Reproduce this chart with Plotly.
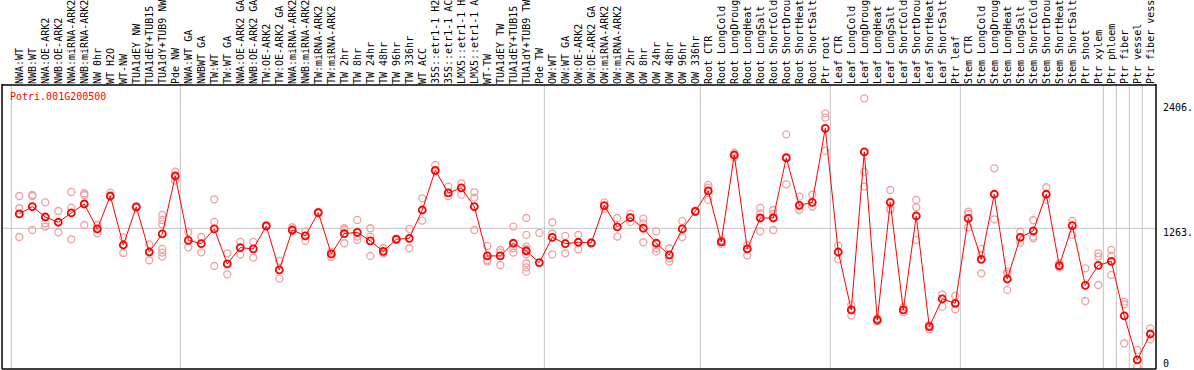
import plotly.graph_objects as go

title_text = "Potri.001G200500"

categories = [
    "NWA:WT", "NWB:WT", "NWA:OE-ARK2", "NWB:OE-ARK2", "NWA:miRNA-ARK2", "NWB:miRNA-ARK2",
    "NW 0hr", "WT H2O", "WT-NW", "TUA1dEY NW", "TUA1dEY+TUB15 NW", "TUA1dY+TUB9 NW", "Pde NW",
    "NWA:WT GA", "NWBWT GA", "TW:WT", "TW:WT GA", "NWA:OE-ARK2 GA", "NWB:OE-ARK2 GA",
    "TW:OE-ARK2", "TW:OE-ARK2 GA", "NWA:miRNA-ARK2 GA", "NWB:miRNA-ARK2 GA", "TW:miRNA-ARK2",
    "TW:miRNA-ARK2 GA", "TW 2hr", "TW 8hr", "TW 24hr", "TW 48hr", "TW 96hr", "TW 336hr",
    "WT ACC", "35S::etr1-1 H2O", "35S::etr1-1 ACC", "LMX5::etr1-1 H2O", "LMX5::etr1-1 ACC",
    "WT-TW", "TUA1dEY TW", "TUA1dEY+TUB15 TW", "TUA1dY+TUB9 TW", "Pde TW",
    "OW:WT", "OW:WT GA", "OW:OE-ARK2", "OW:OE-ARK2 GA", "OW:miRNA-ARK2", "OW:miRNA-ARK2 GA",
    "OW 2hr", "OW 8hr", "OW 24hr", "OW 48hr", "OW 96hr", "OW 336hr",
    "Root CTR", "Root LongCold", "Root LongDrought", "Root LongHeat", "Root LongSalt",
    "Root ShortCold", "Root ShortDrought", "Root ShortHeat", "Root ShortSalt", "Ptr root",
    "Leaf CTR", "Leaf LongCold", "Leaf LongDrought", "Leaf LongHeat", "Leaf LongSalt",
    "Leaf ShortCold", "Leaf ShortDrought", "Leaf ShortHeat", "Leaf ShortSalt", "Ptr leaf",
    "Stem CTR", "Stem LongCold", "Stem LongDrought", "Stem LongHeat", "Stem LongSalt",
    "Stem ShortCold", "Stem ShortDrought", "Stem ShortHeat", "Stem ShortSalt", "Ptr shoot",
    "Ptr xylem", "Ptr phloem", "Ptr fiber", "Ptr vessel", "Ptr fiber vessel",
]

# index of last category in each group (group separators drawn after these)
group_ends = [-1, 12, 40, 52, 62, 72, 83, 84, 85, 86]

means = [
    1394, 1461, 1366, 1318, 1403, 1485, 1257, 1558, 1110, 1458, 1046, 1211, 1741,
    1153, 1122, 1257, 937, 1086, 1074, 1284, 882, 1247, 1193, 1406, 1028, 1214, 1226,
    1147, 1052, 1162, 1171, 1430, 1793, 1586, 1632, 1461, 1010, 1010, 1126, 1055, 949,
    1180, 1122, 1135, 1129, 1470, 1275, 1360, 1263, 1126, 1019, 1257, 1418,
    1604, 1138, 1933, 1074, 1357, 1357, 1906, 1473, 1500, 2177,
    1046, 516, 1961, 424, 1500, 516, 1375, 363, 617, 577,
    1354, 979, 1574, 799, 1180, 1238, 1574, 921, 1287, 741, 924,
    961, 461, 59, 296,
]

replicates = [
    [1558, 1446, 1183], [1567, 1558, 1247], [1500, 1308, 1278], [1421, 1226],
    [1595, 1452, 1162], [1583, 1567, 1293], [1293, 1217], [1589, 1552], [1180, 1037],
    [1464, 1452], [1116, 970], [1385, 1339, 1300, 1074, 1040, 1004], [1781, 1698],
    [1229, 1089], [1183, 1043], [1528, 1321, 918], [1034, 842], [1138, 1022],
    [1138, 995], [1290, 1278], [964, 802], [1272, 1235], [1232, 1147], [1412, 1400],
    [1049, 1000], [1263, 1248, 1126], [1339, 1187, 1156], [1263, 1187, 1010],
    [1080, 1034], [1171, 1156], [1257, 1080], [1537, 1333], [1842, 1781], [1644, 1558],
    [1674, 1570], [1592, 1543, 1247], [1101, 973, 958], [1064, 1040, 927],
    [1278, 1080, 1040], [1357, 1202, 1095, 1071, 1025, 943, 906, 866], [1220],
    [1318, 1217, 1025], [1193, 1034], [1202, 1071], [1135, 1123], [1500, 1436],
    [1357, 1187], [1394, 1321], [1351, 1308, 1135], [1235, 1080, 1049],
    [1080, 988, 958], [1330, 1183], [1424, 1412],
    [1659, 1635, 1522], [1153, 1120], [1955, 1912], [1107, 1016], [1449, 1400, 1235],
    [1430, 1394, 1247], [2122, 1918, 1665], [1552, 1430], [1570, 1461],
    [2314, 2275, 1970],
    [1104, 979], [562, 467], [2451, 1781, 1644], [440, 410], [1613, 1446, 1430],
    [540, 494], [1522, 1455, 1156], [378, 339], [656, 546], [644, 522],
    [1415, 1394, 1272], [1074, 1019, 851], [1811, 1345], [866, 845, 699], [1232, 1132],
    [1336, 1187, 1171], [1638, 1522], [943, 906], [1330, 1202], [897, 598],
    [1034, 1004, 744],
    [1065, 1010, 836], [592, 568, 211], [150, 0], [348, 248],
]

y_ticks = [0, 1263, 2406]
y_tick_text = ["0", "1263.", "2406."]

# ---------------------------------------------------------------
W, H = 1194, 370
ML, MR, MT, MB = 2, 38, 85, 1
plot_w = W - ML - MR
plot_h = H - MT - MB
x_range = [-1.33, 87.44]
y_range = [-24, 2573]

FONT = "DejaVu Sans Mono"
RED = "#ff0000"
PINK = "#f0a0a0"
GRAY = "#c4c4c4"

xs = list(range(len(categories)))
rep_x, rep_y = [], []
for i, reps in enumerate(replicates):
    for v in reps:
        rep_x.append(i)
        rep_y.append(v)

fig = go.Figure()
fig.add_trace(go.Scatter(
    x=rep_x, y=rep_y, mode="markers",
    marker=dict(symbol="circle-open", size=7, color=PINK, line=dict(width=1.3, color=PINK)),
    hoverinfo="skip", showlegend=False, cliponaxis=True,
))
fig.add_trace(go.Scatter(
    x=xs, y=means, mode="lines+markers",
    line=dict(color=RED, width=1),
    marker=dict(symbol="circle-open", size=7, color=RED, line=dict(width=1.8, color=RED)),
    showlegend=False, cliponaxis=True,
))


def xpaper(xv):
    return (xv - x_range[0]) / (x_range[1] - x_range[0])


top_page = (plot_h + MB) / plot_h  # paper y of top of page
shapes = []
# gridline at middle tick
shapes.append(dict(type="line", xref="paper", yref="y", x0=0, x1=1, y0=y_ticks[1], y1=y_ticks[1],
                   line=dict(color=GRAY, width=1), layer="below"))
# group separators
for g in group_ends:
    xp = xpaper(g + 0.5 - 0.11)
    shapes.append(dict(type="line", xref="paper", yref="paper", x0=xp, x1=xp, y0=0, y1=top_page,
                       line=dict(color=GRAY, width=1), layer="below"))
# frame
shapes.append(dict(type="line", xref="paper", yref="paper", x0=0, x1=0, y0=0, y1=top_page,
                   line=dict(color="black", width=1.5)))
shapes.append(dict(type="line", xref="paper", yref="paper", x0=1, x1=1, y0=0, y1=top_page,
                   line=dict(color="black", width=1.5)))
shapes.append(dict(type="line", xref="paper", yref="paper", x0=0, x1=1, y0=1, y1=1,
                   line=dict(color="black", width=1.5)))
shapes.append(dict(type="line", xref="paper", yref="paper", x0=0, x1=1, y0=0, y1=0,
                   line=dict(color="black", width=1.5)))

annotations = [
    dict(text=title_text, xref="paper", yref="paper", x=(9.3 - ML) / plot_w, y=1 - (96.7 - MT) / plot_h,
         xanchor="left", yanchor="middle", showarrow=False, font=dict(family=FONT, size=10, color=RED),
         borderpad=0),
]
anchors = ["bottom", "top", "top"]
shifts = [-4, 2, 2]
for v, t, a, s in zip(y_ticks, y_tick_text, anchors, shifts):
    annotations.append(dict(text=t, xref="paper", yref="y", x=1, y=v, xanchor="left", yanchor=a,
                            xshift=6, yshift=s, showarrow=False, borderpad=0,
                            font=dict(family=FONT, size=10, color="black")))

fig.update_layout(
    width=W, height=H,
    margin=dict(l=ML, r=MR, t=MT, b=MB, pad=0),
    paper_bgcolor="white", plot_bgcolor="white",
    shapes=shapes, annotations=annotations,
    xaxis=dict(
        side="top", range=x_range, tickmode="array", tickvals=xs, ticktext=categories,
        tickangle=-90, showgrid=False, zeroline=False, showline=False, ticks="",
        tickfont=dict(family=FONT, size=10, color="black"), automargin=False, fixedrange=True,
    ),
    yaxis=dict(
        range=y_range, showgrid=False, zeroline=False, showline=False, showticklabels=False,
        ticks="", automargin=False, fixedrange=True,
    ),
    showlegend=False,
)

fig.write_html(
    "out.html",
    config={"displayModeBar": False},
    post_script="document.body.style.margin='0';document.body.style.overflow='hidden';",
)
